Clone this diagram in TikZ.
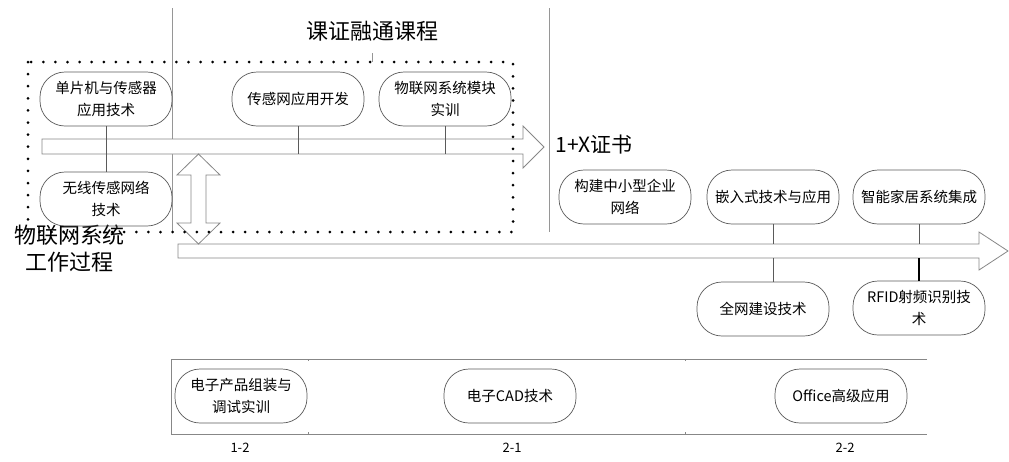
\documentclass[tikz,border=0pt]{standalone}
\usepackage{fontspec}
\setmainfont{Noto Sans CJK SC}
\usepackage{tikz}

\definecolor{edgegray}{RGB}{90,90,90}
\definecolor{arrowgray}{RGB}{135,135,135}
\definecolor{rulegray}{RGB}{150,150,150}

\begin{document}
\begin{tikzpicture}[x=1pt,y=-1pt]

%
% Styles
%
\tikzset{
  course/.style = {draw=edgegray,line width=0.7pt,rounded corners=25pt,
                   minimum width=132pt,minimum height=54pt,inner sep=1pt,
                   align=center,font=\fontsize{14.5}{22}\selectfont},
  hollow/.style = {draw=arrowgray,line width=0.8pt,fill=white,line join=miter},
  link/.style   = {draw=edgegray,line width=0.7pt},
  divider/.style= {draw=rulegray,line width=0.7pt},
  dotbox/.style = {line width=3pt,line cap=round,dash pattern=on 0pt off 12.1pt},
  caption/.style= {align=center,font=\fontsize{22}{27}\selectfont},
  term/.style   = {font=\fontsize{13}{15}\selectfont}
}

\useasboundingbox (0,0) rectangle (1009,461);

% column rules
\draw[divider] (172,8) -- (172,232);
\draw[divider] (549,8) -- (549,232);

% hollow arrows
\draw[hollow] (42,139) -- (523,139) -- (523,126) -- (544,147) -- (523,168)
  -- (523,154) -- (42,154) -- cycle;
\draw[hollow] (178,244) -- (979,244) -- (979,232) -- (1008,251) -- (979,270)
  -- (979,258) -- (178,258) -- cycle;
\draw[hollow] (198.5,154) -- (220,175) -- (206,175) -- (206,223) -- (220,223)
  -- (198.5,244) -- (177,223) -- (191,223) -- (191,175) -- (177,175) -- cycle;

\coordinate (a1bot) at (0,154);
\coordinate (a2top) at (0,244);
\coordinate (a2bot) at (0,258);

% titles
\node[caption] (kz)   at (372,31)  {课证融通课程};
\node[caption,font=\fontsize{21}{25}\selectfont,anchor=west] (cert) at (552,145) {1+X证书};
\node[caption] (wlw)  at (69,249)  {物联网系统\\工作过程};
\coordinate (boxtop) at (372,62);
\draw[divider] (372,53) -- (boxtop);

% courses
\node[course] (n1) at (106,99)  {单片机与传感器\\应用技术};
\node[course] (n2) at (298,99)  {传感网应用开发};
\node[course] (n3) at (445,99)  {物联网系统模块\\实训};
\node[course] (n4) at (106,199) {无线传感网络\\技术};
\node[course] (n5) at (625,197) {构建中小型企业\\网络};
\node[course] (n6) at (773,197) {嵌入式技术与应用};
\node[course] (n7) at (919,197) {智能家居系统集成};
\node[course] (n8) at (763,309) {全网建设技术};
\node[course] (n9) at (919,308) {RFID射频识别技\\术};

\draw[link] (n1) -- (n4);
\draw[link] (n2.south) -- (n2.south |- a1bot);
\draw[link] (n3.south) -- (n3.south |- a1bot);
\draw[link] (n6.south) -- (n6.south |- a2top);
\draw[link] (n7.south) -- (n7.south |- a2top);
\draw[link] (773,258) -- (773,282);
\draw[link,line width=1.1pt,black] (n9.north) -- (n9.north |- a2bot);

% dotted frame
\draw[dotbox] (28,62) rectangle (513,232);

% semester strip
\draw[divider,draw=arrowgray] (927,359) -- (171,359) -- (171,434) -- (927,434);
\foreach \x in {308,685} {
  \draw[divider,draw=arrowgray] (\x,359) -- (\x,361);
  \draw[divider,draw=arrowgray] (\x,432) -- (\x,434);
}
\node[course] (n10) at (241,396) {电子产品组装与\\调试实训};
\node[course] (n11) at (510,396) {电子CAD技术};
\node[course] (n12) at (841,396) {Office高级应用};

\node[term] (s12) at (240,448) {1-2};
\node[term] (s21) at (512,448) {2-1};
\node[term] (s22) at (845,448) {2-2};

\end{tikzpicture}
\end{document}
